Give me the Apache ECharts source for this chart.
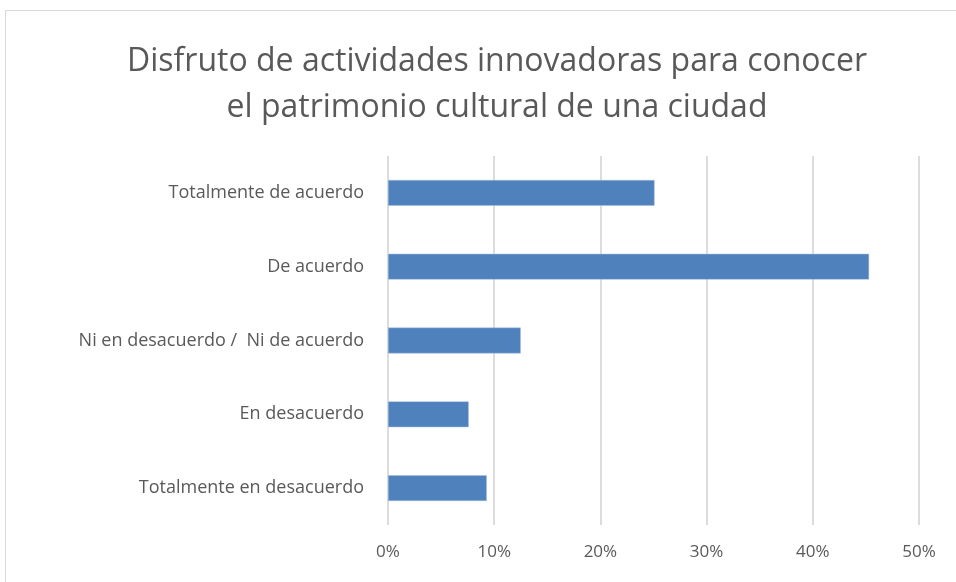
<!DOCTYPE html>
<html>
<head>
    <meta charset="utf-8">
    <script src="https://cdnjs.cloudflare.com/ajax/libs/echarts/6.0.0/echarts.min.js"></script>
</head>
<body>
    <div id="frame"><div id="main"></div></div>
    <style>
html,body { height: 100%; margin: 0; padding: 0; background: #fff; }
#frame { position: absolute; left: 5px; top: 10px; width: 960px; height: 580px; border: 1px solid #d9d9d9; }
#main { position: absolute; left: -6px; top: -11px; width: 956px; height: 582px; }
    </style>
    <script type="text/javascript">
var categories = [
    'Totalmente de acuerdo',
    'De acuerdo',
    'Ni en desacuerdo /  Ni de acuerdo',
    'En desacuerdo',
    'Totalmente en desacuerdo'
];
var values = [25.1, 45.3, 12.5, 7.6, 9.3];
var tickLabels = ['0%', '10%', '20%', '30%', '40%', '50%'];

var font = '"Open Sans", "Noto Sans", sans-serif';
var option = {
    animation: false,
    title: {
        text: 'Disfruto de actividades innovadoras para conocer\nel patrimonio cultural de una ciudad',
        left: 492,
        textAlign: 'center',
        top: 34,
        textStyle: {
            color: '#595959',
            fontFamily: font,
            fontWeight: 'normal',
            fontSize: 32,
            lineHeight: 46
        }
    },
    grid: {
        left: 388,
        right: 37,
        top: 156,
        bottom: 57,
        containLabel: false
    },
    xAxis: {
        type: 'value',
        min: 0,
        max: 50,
        interval: 10,
        axisLine: { show: false },
        axisTick: { show: false },
        splitLine: { lineStyle: { color: '#dcdcdc', width: 2 } },
        axisLabel: {
            color: '#595959',
            fontFamily: font,
            fontSize: 17,
            margin: 19,
            formatter: function (v) { return tickLabels[v / 10]; }
        }
    },
    yAxis: {
        type: 'category',
        inverse: true,
        data: categories,
        axisLine: { show: false },
        axisTick: { show: false },
        axisLabel: {
            color: '#595959',
            fontFamily: font,
            fontSize: 18,
            margin: 24
        }
    },
    series: [{
        type: 'bar',
        data: values,
        barWidth: '35%',
        itemStyle: {
            color: '#4f81bd',
            borderColor: '#a9c1e0',
            borderWidth: 0.5
        }
    }]
};
var chart = echarts.init(document.getElementById('main'));
chart.setOption(option);
    </script>
</body>
</html>
